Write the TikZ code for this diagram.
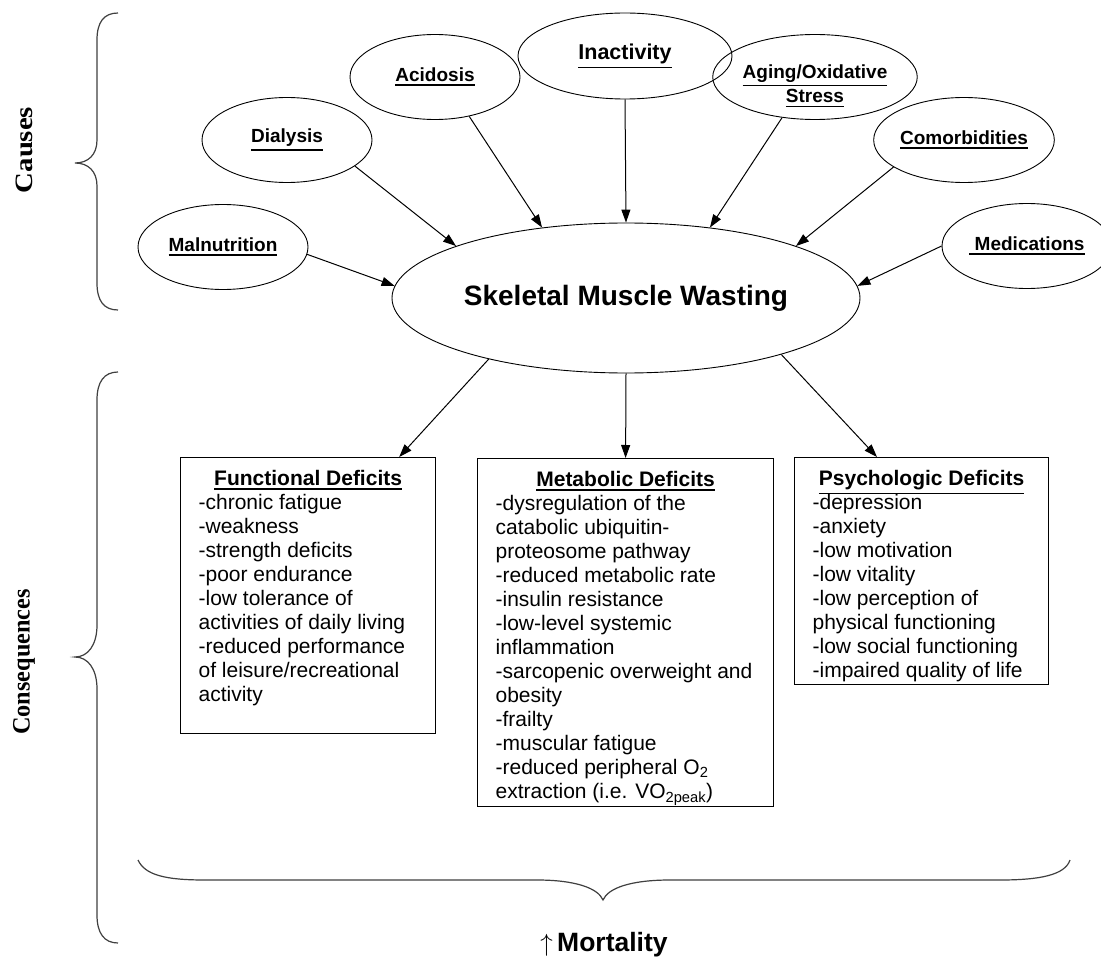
\documentclass[tikz,border=0pt]{standalone}
\usepackage{fontspec}
\setmainfont{Liberation Sans}
\newfontfamily\timesfont{Liberation Serif}
\usepackage{graphicx}
\usetikzlibrary{shapes.geometric,arrows.meta}
\newsavebox\ulbox
\newcommand\ulx[1]{\sbox\ulbox{#1}\rlap{\rule[\dimexpr-\dp\ulbox-4pt\relax]{\wd\ulbox}{1.5pt}}\usebox\ulbox}
\newcommand\defbox[4]{\parbox[t][#2][t]{#1}{\fontsize{21}{24}\selectfont\centering\rule{0pt}{28pt}\ulx{\textbf{#3}}\par\raggedright\leftskip=18pt #4\par}}
\begin{document}
\begin{tikzpicture}[x=1pt,y=-1pt,
  cause/.style={draw, ellipse, line width=0.9pt, inner sep=0pt, minimum width=170pt, minimum height=85pt, font=\fontsize{19}{24}\selectfont\bfseries},
  arr/.style={-{Triangle[length=13pt,width=9pt]}, line width=1pt},
  deficit/.style={draw, line width=1.2pt, inner sep=0pt, anchor=north west},
  brace/.style={line width=1.2pt, black!75},
  side/.style={rotate=90, inner sep=0pt, font=\timesfont\bfseries\fontsize{25}{25}\selectfont}]
\clip (0,0) rectangle (1101,963);
\fill[white] (0,0) rectangle (1101,963);

% side labels and braces
\node[side] (causes) at (24,150) {\scalebox{1.15}[1]{Causes}};
\node[side] (conseq) at (24,662) {\scalebox{0.97}[1]{Consequences}};
\draw[brace] (118,13) .. controls (104,13) and (97,22) .. (97,40) -- (97,140)
  .. controls (97,155) and (88,163) .. (75,163) .. controls (88,163) and (97,171) .. (97,186)
  -- (97,283) .. controls (97,301) and (104,310) .. (118,310);
\draw[brace] (118,372) .. controls (104,372) and (97,382) .. (97,400) -- (97,625)
  .. controls (97,645) and (88,657) .. (75,657) .. controls (88,657) and (97,669) .. (97,689)
  -- (97,915) .. controls (97,933) and (104,943) .. (118,943);
\draw[brace] (138,860) .. controls (145,875) and (165,880) .. (205,880) -- (537,880)
  .. controls (575,880) and (598,888) .. (603,900) .. controls (608,888) and (631,880) .. (670,880)
  -- (1000,880) .. controls (1040,880) and (1065,875) .. (1070,860);
\node[font=\bfseries\fontsize{26.5}{30}\selectfont, inner sep=0pt] (mort) at (604,945) {$\uparrow$\,Mortality};

% main node
\node[draw, ellipse, line width=0.9pt, inner sep=0pt, minimum width=468pt, minimum height=150pt,
  font=\fontsize{28}{32}\selectfont\bfseries] (main) at (626,298) {\raisebox{3pt}{Skeletal Muscle Wasting}};

% causes
\node[cause] (mal) at (223,247) {\ulx{Malnutrition}};
\node[cause] (dia) at (287,140) {\ulx{Dialysis}};
\node[cause] (aci) at (435,77) {\ulx{Acidosis}};
\node[cause, minimum width=214pt, minimum height=86pt, font=\fontsize{21.5}{24}\selectfont\bfseries] (inac) at (625,56) {\ulx{Inactivity}};
\node[cause] (aging) at (815,77) {\raisebox{-13pt}[0pt][0pt]{\begin{tabular}{@{}c@{}}\ulx{Aging/Oxidative}\\\ulx{Stress}\end{tabular}}};
\node[cause] (comor) at (964,140) {\ulx{Comorbidities}};
\node[cause] (med) at (1027,246) {\ulx{\ Medications}};

\draw[arr] (mal.-5) -- (main.177);
\draw[arr] (dia.-21) -- (main.163);
\draw[arr] (aci.-49) -- (main.140);
\draw[arr] (inac.south) -- (main.north);
\draw[arr] (aging.-129) -- (main.40);
\draw[arr] (comor.201) -- (main.17);
\draw[arr] (med.west) -- (main.3);

% consequences boxes
\node[deficit] (func) at (180,457) {\defbox{255pt}{276pt}{Functional Deficits}{%
-chronic fatigue\\
-weakness\\
-strength deficits\\
-poor endurance\\
-low tolerance of\\
activities of daily living\\
-reduced performance\\
of leisure/recreational\\
activity}};
\node[deficit] (meta) at (477,458) {\defbox{296pt}{348pt}{Metabolic Deficits}{%
-dysregulation of the\\
catabolic ubiquitin-\\
proteosome pathway\\
-reduced metabolic rate\\
-insulin resistance\\
-low-level systemic\\
inflammation\\
-sarcopenic overweight and\\
obesity\\
-frailty\\
-muscular fatigue\\
-reduced peripheral O\textsubscript{2}\\
extraction (i.e. VO\textsubscript{2peak})}};
\node[deficit] (psych) at (794,457) {\defbox{254pt}{227pt}{Psychologic Deficits}{%
-depression\\
-anxiety\\
-low motivation\\
-low vitality\\
-low perception of\\
physical functioning\\
-low social functioning\\
-impaired quality of life}};

\draw[arr] (main.204) -- ([xshift=-37pt]func.north east);
\draw[arr] (main.south) -- (meta.north);
\draw[arr] (main.-20.6) -- ([xshift=83pt]psych.north west);
\end{tikzpicture}
\end{document}
